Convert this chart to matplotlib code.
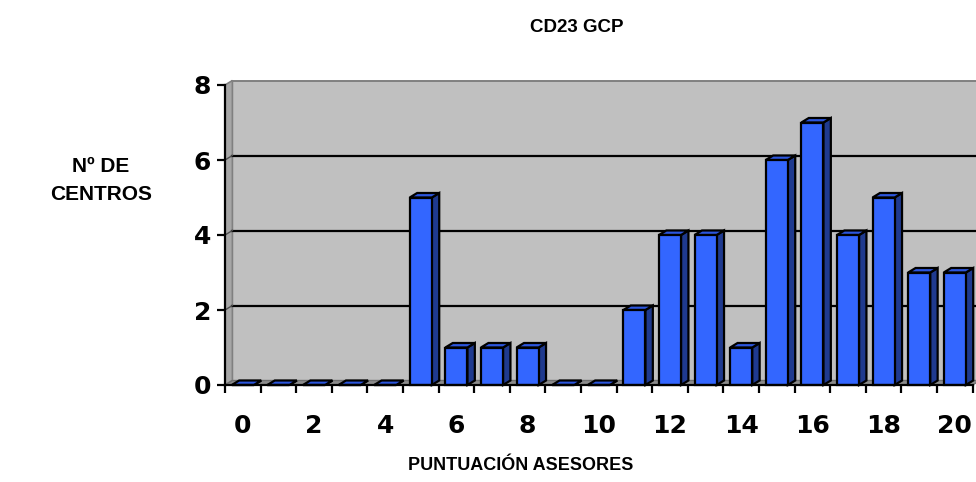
import matplotlib
matplotlib.use("Agg")
import matplotlib.pyplot as plt
from matplotlib.patches import Polygon
import numpy as np

# ---- data ----
scores = list(range(0, 21))
counts = [0, 0, 0, 0, 0, 5, 1, 1, 1, 0, 0, 2, 4, 4, 1, 6, 7, 4, 5, 3, 3]
xtick_labels = [str(s) for s in scores if s % 2 == 0]
yticks = [0, 2, 4, 6, 8]
title = "CD23 GCP"
ylabel = "Nº DE\nCENTROS"
xlabel = "PUNTUACIÓN ASESORES"

W, H = 976, 482
fig = plt.figure(figsize=(W / 100, H / 100), dpi=100)
fig.patch.set_facecolor("white")

px_per_cat = 35.6
x0_px, y0_px, yh_px = 225, 385, 300
ax = fig.add_axes([x0_px / W, (H - y0_px) / H, 21 * px_per_cat / W, yh_px / H])
ax.set_xlim(-0.5, 20.5)
ax.set_ylim(0, 8)
ax.patch.set_visible(False)

dx = 7.4 / px_per_cat
dy = 4.5 / 37.5
xl, xr = -0.5, 20.5
ymax = 8

# back wall
ax.add_patch(Polygon([(xl + dx, dy), (xr + dx, dy), (xr + dx, ymax + dy), (xl + dx, ymax + dy)],
                     closed=True, facecolor="#C0C0C0", edgecolor="#808080", lw=1.4,
                     clip_on=False, zorder=0))
# left side wall
ax.add_patch(Polygon([(xl, 0), (xl + dx, dy), (xl + dx, ymax + dy), (xl, ymax)],
                     closed=True, facecolor="#A6A6A6", edgecolor="#808080", lw=1.2,
                     clip_on=False, zorder=0.5))
# floor
ax.add_patch(Polygon([(xl, 0), (xr, 0), (xr + dx, dy), (xl + dx, dy)],
                     closed=True, facecolor="#8C8C8C", edgecolor="#707070", lw=1.0,
                     clip_on=False, zorder=0.5))
# gridlines on back wall + side wall (not at the top edge)
for v in yticks[1:-1]:
    ax.plot([xl + dx, xr + dx], [v + dy, v + dy], color="black", lw=1.6, zorder=1, clip_on=False)
    ax.plot([xl, xl + dx], [v, v + dy], color="#505050", lw=1.0, zorder=1, clip_on=False)

# bars
bw = 0.62
front_c, top_c, side_c = "#3366FF", "#2C56DD", "#1F3A8F"
ax.bar(scores, counts, width=bw, color=front_c, edgecolor="black", lw=1.6, zorder=3, clip_on=False)
for x, v in zip(scores, counts):
    l, r = x - bw / 2, x + bw / 2
    ax.add_patch(Polygon([(r, 0), (r + dx, dy), (r + dx, v + dy), (r, v)], closed=True,
                         facecolor=side_c, edgecolor="black", lw=1.6, zorder=2.9, clip_on=False,
                         joinstyle="miter"))
    ax.add_patch(Polygon([(l, v), (r, v), (r + dx, v + dy), (l + dx, v + dy)], closed=True,
                         facecolor=top_c, edgecolor="black", lw=1.6, zorder=2.9, clip_on=False,
                         joinstyle="miter"))

# axes styling
for s in ["top", "right"]:
    ax.spines[s].set_visible(False)
for s in ["left", "bottom"]:
    ax.spines[s].set_color("black")
    ax.spines[s].set_linewidth(1.6)
    ax.spines[s].set_zorder(4)

tick_font = dict(family="DejaVu Sans", weight="bold", size=18)
ax.set_yticks(yticks)
ax.set_yticklabels([str(v) for v in yticks], fontdict=tick_font)
ax.tick_params(axis="y", direction="out", length=6, width=1.6, pad=4)

ax.set_xticks([s for s in scores if s % 2 == 0])
ax.set_xticklabels(xtick_labels, fontdict=tick_font)
ax.set_xticks(np.arange(-0.5, 21, 1), minor=True)
ax.tick_params(axis="x", which="major", length=0, pad=21)
ax.tick_params(axis="x", which="minor", direction="out", length=6, width=1.6)

fig.text(577 / W, 1 - 27 / H, title, ha="center", va="center",
         fontsize=13.5, fontweight="bold", family="Liberation Sans")
fig.text(101 / W, 1 - 180 / H, ylabel, ha="center", va="center", linespacing=1.6,
         fontsize=15, fontweight="bold", family="Liberation Sans")
fig.text(521 / W, 1 - 466 / H, xlabel, ha="center", va="center",
         fontsize=13, fontweight="bold", family="Liberation Sans")

fig.savefig("out.png", dpi=100)
